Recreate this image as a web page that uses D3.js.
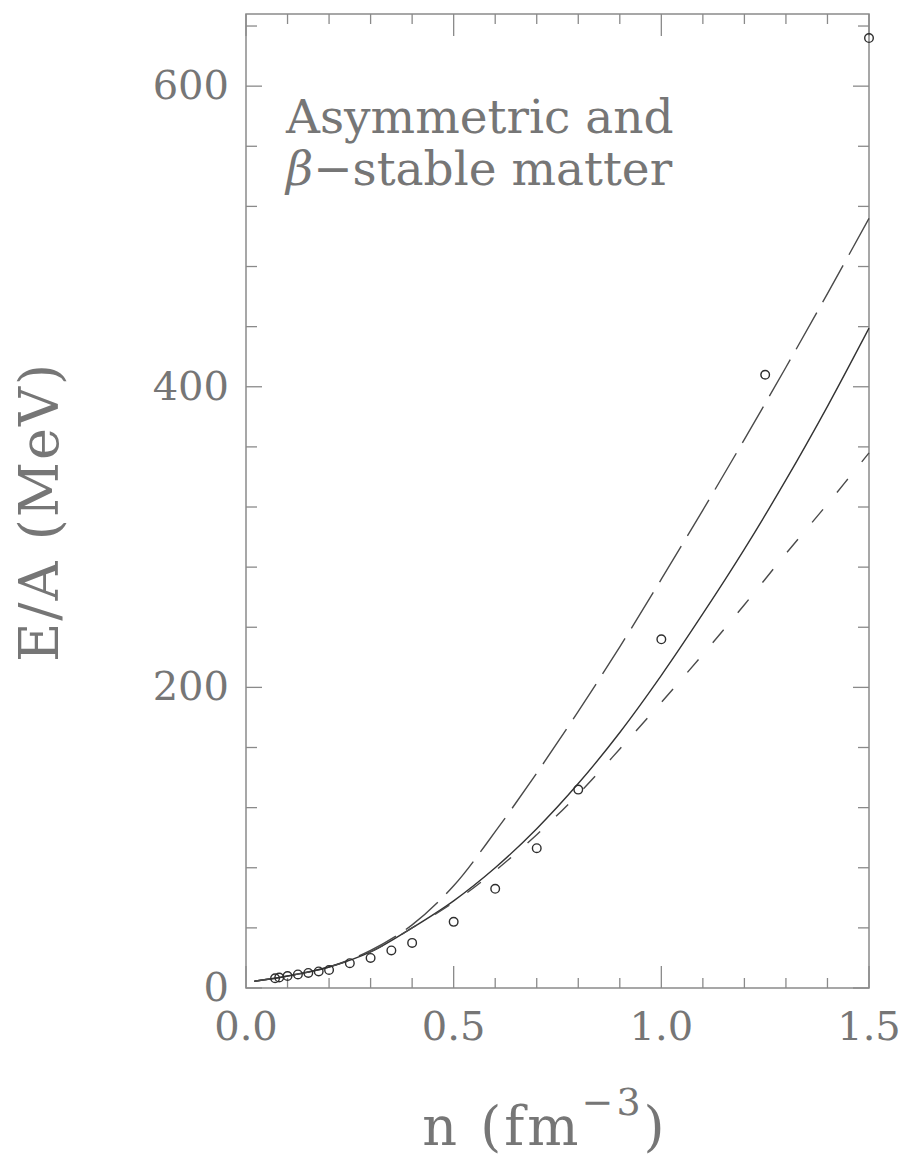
<!DOCTYPE html>
<html>
<head>
<meta charset="utf-8">
<script src="https://cdn.jsdelivr.net/npm/d3@7"></script>
<style>
  html, body { margin: 0; padding: 0; background: #fff; }
  svg { display: block; }
  text { font-family: "DejaVu Serif", "Liberation Serif", serif; fill: #767676; }
</style>
</head>
<body>
<svg id="chart" width="903" height="1159"></svg>
<script>
// Energy per baryon E/A (MeV) versus baryon density n (fm^-3)

// density grid for the model curves
const curveDensity = [0.02, 0.1, 0.2, 0.3, 0.4, 0.5, 0.6, 0.7, 0.8, 0.9, 1.0, 1.1, 1.2, 1.3, 1.4, 1.5];
// long-dashed curve
const energyLongDash = [4.5, 8, 14, 25, 42, 68, 104, 143, 184, 227, 272, 318, 365, 413, 462, 512];
// solid curve
const energySolid = [4.5, 8, 14, 24, 40, 58, 80, 106, 136, 170, 208, 249, 292, 338, 387, 439];
// short-dashed curve
const energyShortDash = [4.5, 8, 14, 24, 40, 57, 78, 102, 129, 159, 190, 222, 255, 289, 322, 356];

// open-circle points
const pointDensity = [0.07, 0.08, 0.1, 0.125, 0.15, 0.175, 0.2, 0.25, 0.3, 0.35, 0.4, 0.5, 0.6, 0.7, 0.8, 1.0, 1.25, 1.5];
const pointEnergy  = [6.5, 7, 8, 9, 10, 11, 12, 16.5, 20, 25, 30, 44, 66, 93, 132, 232, 408, 632];

// axis ticks
const xMajorTicks = [0, 0.5, 1.0, 1.5];
const xTickLabels = ["0.0", "0.5", "1.0", "1.5"];
const xMinorTicks = [0.1, 0.2, 0.3, 0.4, 0.6, 0.7, 0.8, 0.9, 1.1, 1.2, 1.3, 1.4];
const yMajorTicks = [0, 200, 400, 600];
const yTickLabels = ["0", "200", "400", "600"];
const yMinorTicks = [40, 80, 120, 160, 240, 280, 320, 360, 440, 480, 520, 560, 640];

const svg = d3.select("#chart");
const plotLeft = 246, plotRight = 869, plotTop = 14, plotBottom = 988;

const x = d3.scaleLinear().domain([0, 1.5]).range([plotLeft, plotRight]);
const y = d3.scaleLinear().domain([0, 648]).range([plotBottom, plotTop]);

const frameColor = "#8a8a8a";

// frame
svg.append("rect")
  .attr("x", plotLeft).attr("y", plotTop)
  .attr("width", plotRight - plotLeft).attr("height", plotBottom - plotTop)
  .attr("fill", "none").attr("stroke", frameColor).attr("stroke-width", 1.5);

const ticks = svg.append("g").attr("stroke", frameColor).attr("stroke-width", 1.3);

// x ticks on bottom and top edges, pointing inward
function xTick(v, len) {
  ticks.append("line").attr("x1", x(v)).attr("x2", x(v)).attr("y1", plotBottom).attr("y2", plotBottom - len);
  ticks.append("line").attr("x1", x(v)).attr("x2", x(v)).attr("y1", plotTop).attr("y2", plotTop + len);
}
xMajorTicks.forEach(v => xTick(v, 22));
xMinorTicks.forEach(v => xTick(v, 10));

// y ticks on left and right edges, pointing inward
function yTick(v, len) {
  ticks.append("line").attr("x1", plotLeft).attr("x2", plotLeft + len).attr("y1", y(v)).attr("y2", y(v));
  ticks.append("line").attr("x1", plotRight).attr("x2", plotRight - len).attr("y1", y(v)).attr("y2", y(v));
}
yMajorTicks.forEach(v => yTick(v, 16));
yMinorTicks.forEach(v => yTick(v, 11));

// tick labels
svg.append("g").selectAll("text").data(xMajorTicks).join("text")
  .attr("x", d => x(d)).attr("y", 1040)
  .attr("text-anchor", "middle").attr("font-size", 40)
  .text((d, i) => xTickLabels[i]);

svg.append("g").selectAll("text").data(yMajorTicks).join("text")
  .attr("x", 229).attr("y", d => y(d) + 13)
  .attr("text-anchor", "end").attr("font-size", 40)
  .text((d, i) => yTickLabels[i]);

// axis titles
svg.append("text")
  .attr("transform", "translate(58,512) rotate(-90)")
  .attr("text-anchor", "middle").attr("font-size", 54)
  .attr("letter-spacing", 2)
  .text("E/A (MeV)");

const xTitle = svg.append("text")
  .attr("x", 545).attr("y", 1145)
  .attr("text-anchor", "middle").attr("font-size", 54)
  .attr("letter-spacing", 3);
xTitle.append("tspan").text("n (fm");
xTitle.append("tspan").attr("font-size", 38).attr("dy", -30).text("\u22123");
xTitle.append("tspan").attr("dy", 30).text(")");

// annotation, two lines
svg.append("text").attr("font-size", 47)
  .attr("x", 286).attr("y", 133).text("Asymmetric and");
const note2 = svg.append("text").attr("font-size", 47)
  .attr("x", 286).attr("y", 185);
note2.append("tspan").attr("font-style", "italic").text("\u03b2");
note2.append("tspan").text("\u2212stable matter");

// curves
const line = d3.line()
  .x((d, i) => x(curveDensity[i]))
  .y(d => y(d))
  .curve(d3.curveCatmullRom.alpha(0.5));

const plot = svg.append("g").attr("fill", "none");

plot.append("path").datum(energyLongDash)
  .attr("d", line).attr("stroke", "#4a4a4a").attr("stroke-width", 1.4)
  .attr("stroke-dasharray", "42 12");

plot.append("path").datum(energySolid)
  .attr("d", line).attr("stroke", "#333").attr("stroke-width", 1.4);

plot.append("path").datum(energyShortDash)
  .attr("d", line).attr("stroke", "#4a4a4a").attr("stroke-width", 1.4)
  .attr("stroke-dasharray", "17 22");

// points
plot.selectAll("circle").data(pointDensity).join("circle")
  .attr("cx", d => x(d))
  .attr("cy", (d, i) => y(pointEnergy[i]))
  .attr("r", 4.3)
  .attr("stroke", "#2e2e2e").attr("stroke-width", 1.4);
</script>
</body>
</html>
